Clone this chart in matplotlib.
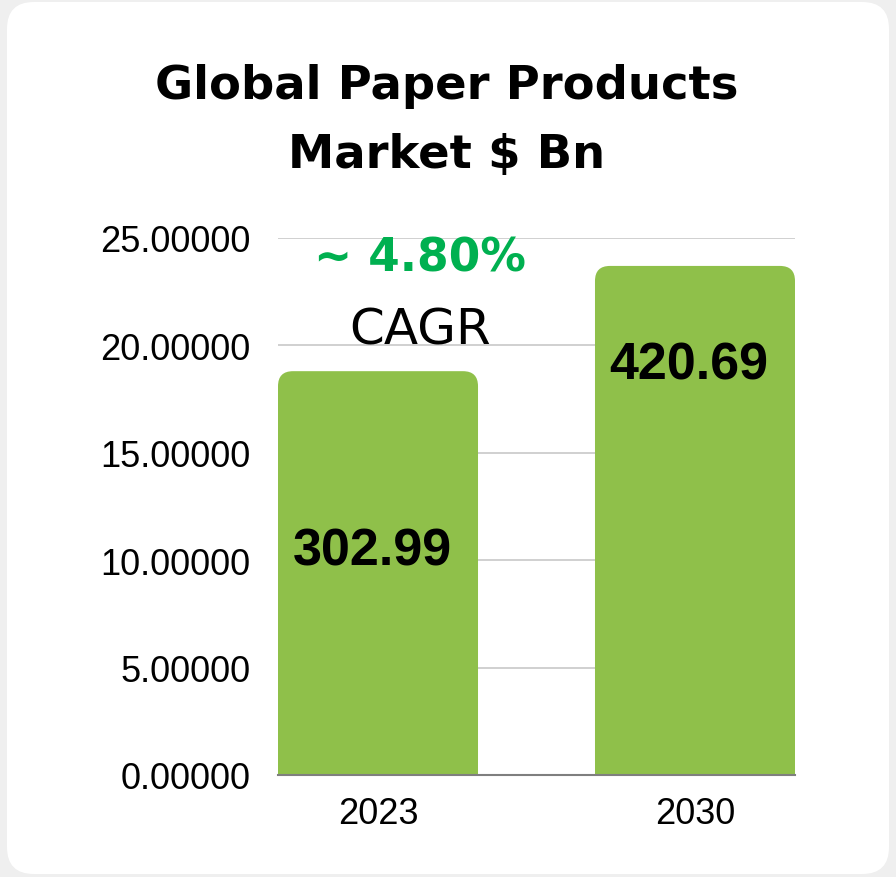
import matplotlib
matplotlib.use("Agg")
import matplotlib.pyplot as plt
from matplotlib.patches import FancyBboxPatch, Rectangle
import numpy as np

years = ["2023", "2030"]
bar_heights = [18.8, 23.7]
bar_labels = ["302.99", "420.69"]
label_y = [10.45, 19.1]
yticks = [0, 5, 10, 15, 20, 25]
title = "Global Paper Products\nMarket $ Bn"
cagr_value = "~ 4.80%"
cagr_text = "CAGR"

W, H = 896, 878
fig = plt.figure(figsize=(W / 100, H / 100), dpi=100)
fig.patch.set_facecolor("#efefef")

# white card behind everything
card = FancyBboxPatch((7 / W, 3 / H), 882 / W, 872 / H,
                      boxstyle="round,pad=0,rounding_size=0.03",
                      transform=fig.transFigure, facecolor="white",
                      edgecolor="none", mutation_aspect=W / H, zorder=-10)
fig.patches.append(card)

ax = fig.add_axes([278 / W, 1 - 776 / H, 517 / W, 537 / H])
ax.set_facecolor("none")

bw = 0.631
x = np.arange(len(years))
bars = ax.bar(x, bar_heights, width=bw, color="#8fc04a", alpha=0)
ax.set_xlim(-bw / 2, len(years) - 1 + bw / 2)
ax.set_ylim(0, 25)

# rounded tops
fig.canvas.draw()
xpx = ax.transData.transform((1, 0))[0] - ax.transData.transform((0, 0))[0]
ypx = ax.transData.transform((0, 1))[1] - ax.transData.transform((0, 0))[1]
r_px = 15
r = r_px / xpx
for b in bars:
    bx, by = b.get_x(), b.get_y()
    w, h = b.get_width(), b.get_height()
    top = FancyBboxPatch((bx, by), w, h,
                         boxstyle=f"round,pad=0,rounding_size={r}",
                         mutation_aspect=xpx / ypx, facecolor="#8fc04a",
                         edgecolor="none", zorder=2)
    ax.add_patch(top)
    ax.add_patch(Rectangle((bx, by), w, h / 2, facecolor="#8fc04a",
                           edgecolor="none", zorder=2))

ax.set_yticks(yticks)
ax.set_yticklabels([f"{v:.5f}" for v in yticks])
ax.set_xticks(x)
ax.set_xticklabels(years)
ax.yaxis.grid(True, color="#c8c8c8", linewidth=1.2)
ax.set_axisbelow(True)
for s in ["top", "right", "left"]:
    ax.spines[s].set_visible(False)
ax.spines["bottom"].set_color("#7f7f7f")
ax.spines["bottom"].set_linewidth(1.5)
ax.spines["bottom"].set_zorder(3)
ax.tick_params(axis="both", length=0, labelsize=26,
               labelfontfamily="Liberation Sans", colors="black")
ax.tick_params(axis="y", pad=20)
ax.tick_params(axis="x", pad=15)

for xi, lab, ly in zip(x, bar_labels, label_y):
    ax.text(xi - 0.019, ly, lab, ha="center", va="center", fontsize=37.5,
            fontweight="bold", family="Liberation Sans", zorder=4)

ax.text(0.275, 0.962, cagr_value, transform=ax.transAxes, ha="center",
        va="center", fontsize=32.8, fontweight="bold", color="#00b050",
        family="DejaVu Sans")
ax.text(0.275, 0.83, cagr_text, transform=ax.transAxes, ha="center",
        va="center", fontsize=36, color="black", family="DejaVu Sans")

fig.text(447 / W, 1 - 121 / H, title, ha="center", va="center",
         fontsize=33.5, fontweight="bold", family="DejaVu Sans",
         linespacing=1.7)

fig.savefig("out.png", dpi=100, facecolor=fig.get_facecolor())
